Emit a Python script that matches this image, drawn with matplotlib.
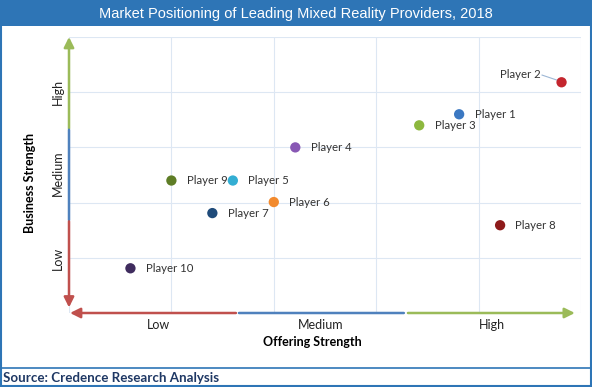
import matplotlib
matplotlib.use("Agg")
import matplotlib.pyplot as plt
from matplotlib.patches import Rectangle
from matplotlib.lines import Line2D

players = ["Player 1", "Player 2", "Player 3", "Player 4", "Player 5",
           "Player 6", "Player 7", "Player 8", "Player 9", "Player 10"]
offering = [3.81, 4.81, 3.42, 2.21, 1.60, 2.00, 1.40, 4.21, 1.00, 0.60]
business = [3.60, 4.18, 3.40, 3.00, 2.40, 2.01, 1.81, 1.59, 2.40, 0.81]
colors = ["#3B78C2", "#C4262E", "#8DB83E", "#8858B4", "#33AED3",
          "#F28A2E", "#1F4B7A", "#8E1B1B", "#5E7D26", "#3F2C5E"]
level_labels = ["Low", "Medium", "High"]

W, H = 592, 387
fig = plt.figure(figsize=(W / 100, H / 100), dpi=100)
fig.patch.set_facecolor("white")

BLUE = "#2E75B6"
# outer border
fig.add_artist(Rectangle((1 / W, 1 / H), (W - 2) / W, (H - 2) / H, transform=fig.transFigure,
                         fill=False, edgecolor=BLUE, lw=1.5))
# title bar
fig.add_artist(Rectangle((0, 1 - 26 / H), 1, 24 / H, transform=fig.transFigure,
                         facecolor=BLUE, edgecolor="none"))
fig.text(0.5, 1 - 14 / H, "Market Positioning of Leading Mixed Reality Providers, 2018",
         color="white", fontsize=10.5, family="Liberation Sans", ha="center", va="center")
# source separator
fig.add_artist(Line2D([0, 1], [1 - 368 / H, 1 - 368 / H], transform=fig.transFigure,
                      color=BLUE, lw=1.2))
fig.text(3 / W, 1 - 377.5 / H, "Source: Credence Research Analysis", color="#1F3864",
         fontsize=9.6, family="Lato", fontweight="bold", ha="left", va="center")

ax = fig.add_axes([69 / W, 1 - 313 / H, 512 / W, 276 / H])
ax.set_xlim(0, 5)
ax.set_ylim(0, 5)
for s in ax.spines.values():
    s.set_visible(False)
ax.set_xticks([])
ax.set_yticks([])
for v in range(0, 6):
    ax.axvline(v, color="#DDE7F3", lw=0.8, zorder=0)
    ax.axhline(v, color="#DDE7F3", lw=0.8, zorder=0)

RED, MBLUE, GREEN = "#C0504D", "#4F81BD", "#9BBB59"


def arrow(x0, y0, x1, y1, c, head):
    ax.annotate("", xy=(x1, y1), xytext=(x0, y0), xycoords="data",
                arrowprops=dict(arrowstyle="-|>" if head else "-", color=c, lw=1.8,
                                mutation_scale=15, shrinkA=0, shrinkB=0),
                annotation_clip=False)


# vertical axis arrows
arrow(0, 3.34, 0, 5.0, GREEN, True)
arrow(0, 1.68, 0, 3.32, MBLUE, False)
arrow(0, 1.66, 0, 0.10, RED, True)
# horizontal axis arrows
arrow(1.63, 0.0, 0.01, 0.0, RED, True)
arrow(1.66, 0.0, 3.27, 0.0, MBLUE, False)
arrow(3.31, 0.0, 4.94, 0.0, GREEN, True)

# level labels
xpos = [0.87, 2.46, 4.13]
ypos = [0.99, 2.53, 4.0]
for lab, xp in zip(level_labels, xpos):
    ax.text(xp, -0.22, lab, ha="center", va="center", fontsize=9, family="Lato",
            color="#222222", clip_on=False)
for lab, yp in zip(level_labels, ypos):
    ax.text(-0.11, yp, lab, ha="center", va="center", fontsize=9, family="Lato",
            color="#222222", rotation=90, clip_on=False)
ax.text(2.38, -0.52, "Offering Strength", ha="center", va="center", fontsize=9,
        family="Lato", fontweight="bold", clip_on=False)
ax.text(-0.38, 2.36, "Business Strength", ha="center", va="center", fontsize=9,
        family="Lato", fontweight="bold", rotation=90, clip_on=False)

# points
ax.scatter(offering, business, s=55, c=colors, zorder=3, edgecolors="none")
for name, x, y in zip(players, offering, business):
    if name == "Player 2":
        ax.plot([x - 0.19, x - 0.03], [y + 0.13, y + 0.03], color="#9DB7D5", lw=0.8, zorder=2)
        ax.text(x - 0.2, y + 0.14, name, ha="right", va="center", fontsize=8.2,
                family="Lato", color="#333333")
    else:
        ax.text(x + 0.15, y, name, ha="left", va="center", fontsize=8.2,
                family="Lato", color="#333333")

fig.savefig("out.png", dpi=100)
